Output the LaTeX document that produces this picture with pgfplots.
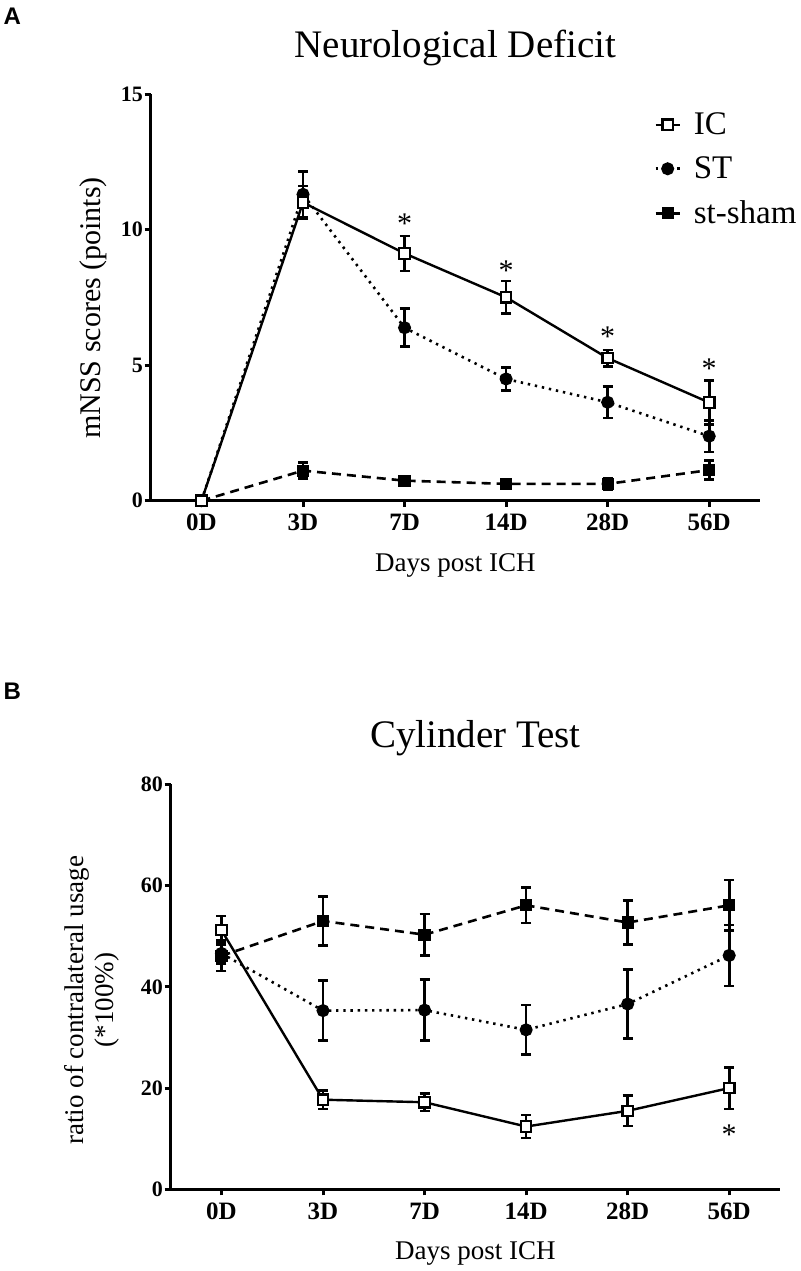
\documentclass[border=0pt]{standalone}
\usepackage{fontspec}
\setmainfont{Liberation Serif}
\newfontfamily\lettersf{Liberation Sans}
\usepackage{pgfplots}
\usepackage{pgfplotstable}
\pgfplotsset{compat=1.18}

\pgfplotstableread{
x y e
0 0 0
1 11.0 0.6
2 9.12 0.65
3 7.5 0.6
4 5.26 0.3
5 3.62 0.82
}\AIC
\pgfplotstableread{
x y e
0 0 0
1 11.3 0.85
2 6.38 0.7
3 4.49 0.43
4 3.63 0.58
5 2.38 0.58
}\AST
\pgfplotstableread{
x y e
0 0 0
1 1.11 0.3
2 0.74 0.1
3 0.62 0.12
4 0.62 0.2
5 1.13 0.35
}\ASH
\pgfplotstableread{
x y e
0 51.2 2.8
1 17.7 1.8
2 17.2 1.7
3 12.4 2.3
4 15.5 3.0
5 20.0 4.1
}\BIC
\pgfplotstableread{
x y e
0 46.6 2.0
1 35.3 5.9
2 35.4 6.0
3 31.5 4.9
4 36.6 6.8
5 46.2 6.0
}\BST
\pgfplotstableread{
x y e
0 46.1 3.0
1 53.0 4.8
2 50.3 4.1
3 56.1 3.5
4 52.7 4.3
5 56.1 5.0
}\BSH

\begin{document}
\begin{tikzpicture}
\useasboundingbox (0,0) rectangle (400pt,-635.5pt);
\pgfplotsset{
  common/.style={
    scale only axis, clip=false,
    xmin=-0.5, xmax=5.5, ymin=0,
    axis x line*=bottom, axis y line*=left,
    axis line style={line width=1.5pt, black},
    tick align=outside, major tick length=3pt,
    major tick style={line width=1.5pt, black},
    xtick={0,1,2,3,4,5},
    xticklabels={0D,3D,7D,14D,28D,56D},
    xticklabel style={font=\bfseries\fontsize{12.5}{14}\selectfont, anchor=north, inner sep=0pt, text height=8.3pt, text depth=0pt, yshift=-3.6pt},
    yticklabel style={font=\bfseries\fontsize{11}{13}\selectfont, anchor=east, inner sep=0pt, xshift=-0.7pt},
    /pgf/number format/assume math mode=true,
    title style={font=\fontsize{19.5}{23}\selectfont, at={(axis description cs:0.5,1)}, anchor=base, yshift=12.5pt, inner sep=0pt},
    xlabel style={font=\fontsize{13.5}{16}\selectfont, at={(axis description cs:0.5,0)}, anchor=base, yshift=-35.3pt, inner sep=0pt},
  },
  eb/.style={error bars/.cd, y dir=both, y explicit, error mark=-,
    error bar style={line width=1.3pt, solid, black},
    error mark options={rotate=90, line width=1.3pt, mark size=2.5pt, black, solid}},
  ic/.style={black, line width=1.2pt, solid, mark=square*, mark size=2.6pt, mark options={solid, fill=white, line width=1.1pt}},
  st/.style={black, line width=1.3pt, dash pattern=on 1.2pt off 2.4pt, mark=*, mark size=2.6pt, mark options={solid}},
  sham/.style={black, line width=1.3pt, dash pattern=on 4.5pt off 3pt, mark=square*, mark size=2.4pt, mark options={solid}},
}

\node[anchor=north west, inner sep=0pt, font=\lettersf\bfseries\fontsize{12}{14}\selectfont] at (1.65pt,-3.65pt) {A};
\node[anchor=north west, inner sep=0pt, font=\lettersf\bfseries\fontsize{12}{14}\selectfont] at (1.65pt,-341.5pt) {B};

% Panel A
\begin{axis}[common,
  at={(75.35pt,-250.35pt)}, anchor=south west,
  width=304.65pt, height=203.35pt,
  ymax=15, ytick={0,5,10,15},
  title={Neurological Deficit},
  xlabel={Days post ICH},
  ylabel={mNSS scores (points)},
  ylabel style={font=\fontsize{15}{18}\selectfont, at={(axis description cs:-0.0832,0.474)}, anchor=base, inner sep=0pt},
  legend style={at={(0.826,0.956)}, anchor=north west, draw=none, fill=none, inner sep=0pt,
    row sep=9.6pt, font=\fontsize{16.5}{19.8}\selectfont,
    nodes={inner sep=0pt},
    /tikz/every odd column/.append style={column sep=6.4pt}},
  legend cell align=left,
  reverse legend,
  legend image code/.code={\draw[mark repeat=2,mark phase=2,#1] plot coordinates {(0pt,0pt)(6pt,0pt)(12pt,0pt)};},
]
\addplot[sham, eb] table[x=x, y=y, y error=e] {\ASH};
\addlegendentry{st-sham}
\addplot[st, eb] table[x=x, y=y, y error=e] {\AST};
\addlegendentry{ST}
\addplot[ic, eb] table[x=x, y=y, y error=e] {\AIC};
\addlegendentry{IC}
\node[font=\fontsize{15}{18}\selectfont, inner sep=0pt] at (axis cs:2,10.22) {*};
\node[font=\fontsize{15}{18}\selectfont, inner sep=0pt] at (axis cs:3,8.5) {*};
\node[font=\fontsize{15}{18}\selectfont, inner sep=0pt] at (axis cs:4,6.04) {*};
\node[font=\fontsize{15}{18}\selectfont, inner sep=0pt] at (axis cs:5,4.87) {*};
\end{axis}

% Panel B
\begin{axis}[common,
  at={(85.35pt,-594.65pt)}, anchor=south west,
  width=304.65pt, height=202.5pt,
  ymax=80, ytick={0,20,40,60,80},
  title={Cylinder Test},
  xlabel={Days post ICH},
  ylabel={ratio of contralateral usage\\(*100\%)},
  ylabel style={font=\fontsize{13.5}{15}\selectfont, align=center, at={(axis description cs:-0.0832,0.467)}, anchor=south, inner sep=0pt},
]
\addplot[sham, eb] table[x=x, y=y, y error=e] {\BSH};
\addplot[st, eb] table[x=x, y=y, y error=e] {\BST};
\addplot[ic, eb] table[x=x, y=y, y error=e] {\BIC};
\node[font=\fontsize{15}{18}\selectfont, inner sep=0pt] at (axis cs:5,10.8) {*};
\end{axis}
\end{tikzpicture}
\end{document}
